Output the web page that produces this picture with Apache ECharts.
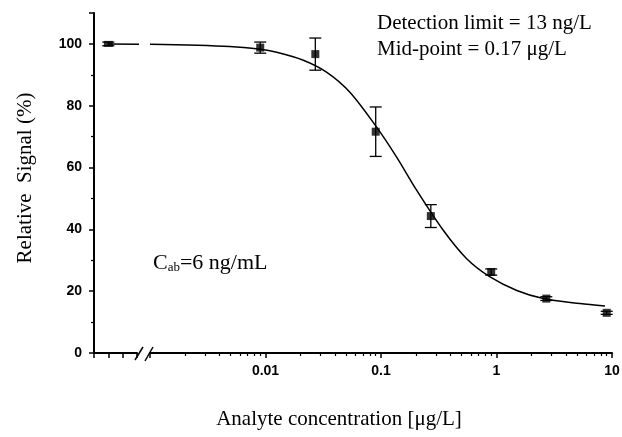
<!DOCTYPE html>
<html>
<head>
<meta charset="utf-8">
<script src="https://cdn.jsdelivr.net/npm/echarts@6/dist/echarts.min.js"></script>
<style>
  html, body { margin: 0; padding: 0; background: #fff; }
  #main { width: 622px; height: 437px; }
</style>
</head>
<body>
<div id="main"></div>
<script>
// 数据：浓度（μg/L）、相对信号（%）和误差
var concentrations = [0.009, 0.027, 0.09, 0.27, 0.9, 2.7, 9];
var signals = [98.8, 96.7, 71.6, 44.3, 26.2, 17.6, 13.0];
var errors = [1.8, 5.2, 8.0, 3.7, 1.0, 0.6, 0.5];

// 空白样（断轴左侧）
var blankPos = [1];
var blankSignal = [100];
var blankError = [0.6];

// 拟合曲线
var curveConc = [0.001, 0.0049, 0.009, 0.0125, 0.021, 0.034, 0.054, 0.092, 0.137, 0.204, 0.346, 0.552, 0.88, 1.5, 2.54, 5.28, 8.7];
var curveSignal = [99.9, 99.2, 98.3, 97.3, 94.8, 90.8, 84.3, 73, 63.3, 52.6, 39.7, 30.5, 24.6, 20.2, 17.6, 16, 15.2];
var leftCurvePos = [1, 3.9];
var leftCurveSignal = [100, 99.9];

// 刻度
var xMajorTicks = [0.001, 0.01, 0.1, 1, 10];
var xTickLabels = ['0.01', '0.1', '1', '10'];
var decades = [0.001, 0.01, 0.1, 1];
var minorSteps = [2, 3, 4, 5, 6, 7, 8, 9];
var yTickLabels = ['0', '20', '40', '60', '80', '100'];

var xMinorTicks = [];
decades.forEach(function (d) {
  minorSteps.forEach(function (k) { xMinorTicks.push(+(d * k).toPrecision(3)); });
});

function zip(a, b) {
  return a.map(function (v, i) { return [v, b[i]]; });
}
function zip3(a, b, c) {
  return a.map(function (v, i) { return [v, b[i], c[i]]; });
}

var chart = echarts.init(document.getElementById('main'));

var axisLine = { lineStyle: { color: '#000', width: 2 } };
var serif = 'Liberation Serif';
var sans = 'Liberation Sans';

function errorBar(params, api) {
  var x = api.value(0), y = api.value(1), e = api.value(2);
  var top = api.coord([x, y + e]);
  var bot = api.coord([x, y - e]);
  var half = 6;
  var st = { stroke: '#000', lineWidth: 1.3 };
  return {
    type: 'group',
    children: [
      { type: 'line', shape: { x1: top[0], y1: top[1], x2: bot[0], y2: bot[1] }, style: st },
      { type: 'line', shape: { x1: top[0] - half, y1: top[1], x2: top[0] + half, y2: top[1] }, style: st },
      { type: 'line', shape: { x1: bot[0] - half, y1: bot[1], x2: bot[0] + half, y2: bot[1] }, style: st }
    ]
  };
}

var option = {
  animation: false,
  backgroundColor: '#fff',
  grid: [
    { left: 94, width: 43, top: 13, bottom: 84, outerBoundsMode: 'none', containLabel: false },
    { left: 150, right: 10, top: 13, bottom: 84, outerBoundsMode: 'none', containLabel: false }
  ],
  xAxis: [
    {
      gridIndex: 0, type: 'value', min: 0, max: 3, interval: 1,
      axisLine: axisLine,
      axisTick: { length: 5, lineStyle: { color: '#000', width: 1.5 } },
      axisLabel: { show: false },
      splitLine: { show: false }
    },
    {
      gridIndex: 1, type: 'log', logBase: 10, min: 0.001, max: 10, position: 'bottom',
      axisLine: axisLine,
      axisTick: { length: 5, customValues: xMajorTicks, lineStyle: { color: '#000', width: 1.5 } },
      axisLabel: {
        customValues: xMajorTicks.slice(1),
        color: '#000', fontFamily: sans, fontWeight: 'bold', fontSize: 14, margin: 11,
        formatter: function (v) {
          return String(+(+v).toPrecision(3));
        }
      },
      splitLine: { show: false },
      name: 'Analyte concentration [μg/L]',
      nameLocation: 'middle',
      nameGap: 56,
      nameTextStyle: { color: '#000', fontFamily: serif, fontSize: 21, padding: [0, 84, 0, 0] }
    },
    {
      // 次刻度（对数间隔）
      gridIndex: 1, type: 'log', logBase: 10, min: 0.001, max: 10, position: 'bottom', offset: 0,
      axisLine: { show: false },
      axisTick: { length: 3, customValues: xMinorTicks, lineStyle: { color: '#000', width: 1.2 } },
      axisLabel: { show: false },
      splitLine: { show: false }
    }
  ],
  yAxis: [
    {
      gridIndex: 0, type: 'value', min: 0, max: 110, interval: 20,
      axisLine: axisLine,
      axisTick: { length: 5, lineStyle: { color: '#000', width: 1.5 } },
      minorTick: { show: true, splitNumber: 2, length: 3, lineStyle: { color: '#000', width: 1.2 } },
      axisLabel: {
        showMaxLabel: false,
        color: '#000', fontFamily: sans, fontWeight: 'bold', fontSize: 14, margin: 12,
        formatter: function (v) {
          var s = String(v);
          return yTickLabels.indexOf(s) >= 0 ? s : '';
        }
      },
      splitLine: { show: false },
      name: 'Relative  Signal (%)',
      nameLocation: 'middle',
      nameGap: 58,
      nameTextStyle: { color: '#000', fontFamily: serif, fontSize: 21, padding: [0, 0, 0, 10] }
    },
    {
      gridIndex: 1, type: 'value', min: 0, max: 110, show: false
    }
  ],
  series: [
    {
      type: 'line', xAxisIndex: 0, yAxisIndex: 0, clip: false,
      data: zip(leftCurvePos, leftCurveSignal),
      symbol: 'none', lineStyle: { color: '#000', width: 1.5 }
    },
    {
      type: 'line', xAxisIndex: 1, yAxisIndex: 1,
      data: zip(curveConc, curveSignal),
      smooth: 0.3, symbol: 'none', lineStyle: { color: '#000', width: 1.5 }
    },
    {
      type: 'custom', xAxisIndex: 0, yAxisIndex: 0,
      data: zip3(blankPos, blankSignal, blankError),
      renderItem: errorBar
    },
    {
      type: 'custom', xAxisIndex: 1, yAxisIndex: 1,
      data: zip3(concentrations, signals, errors),
      renderItem: errorBar
    },
    {
      type: 'scatter', xAxisIndex: 0, yAxisIndex: 0,
      data: zip(blankPos, blankSignal),
      symbol: 'rect', symbolSize: [9, 6], itemStyle: { color: '#000' }
    },
    {
      type: 'scatter', xAxisIndex: 1, yAxisIndex: 1,
      data: zip(concentrations, signals),
      symbol: 'rect', symbolSize: 8, itemStyle: { color: '#000' }
    }
  ],
  graphic: [
    // 断轴符号
    { type: 'line', shape: { x1: 135, y1: 360, x2: 143, y2: 347 }, style: { stroke: '#000', lineWidth: 1.5 } },
    { type: 'line', shape: { x1: 145, y1: 361, x2: 153, y2: 347 }, style: { stroke: '#000', lineWidth: 1.5 } },
    {
      type: 'text', left: 377, top: 13,
      style: { text: 'Detection limit = 13 ng/L', font: '21px "Liberation Serif"', fill: '#000' }
    },
    {
      type: 'text', left: 377, top: 39,
      style: { text: 'Mid-point = 0.17 μg/L', font: '21px "Liberation Serif"', fill: '#000' }
    },
    {
      type: 'text', left: 153, top: 252,
      style: {
        text: '{c|C}{s|ab}{c|=6 ng/mL}',
        rich: {
          c: { fontFamily: serif, fontSize: 22, color: '#000' },
          s: { fontFamily: serif, fontSize: 13, color: '#000', verticalAlign: 'bottom', padding: [9, 0, 0, 0] }
        }
      }
    }
  ]
};
chart.setOption(option);
</script>
</body>
</html>
